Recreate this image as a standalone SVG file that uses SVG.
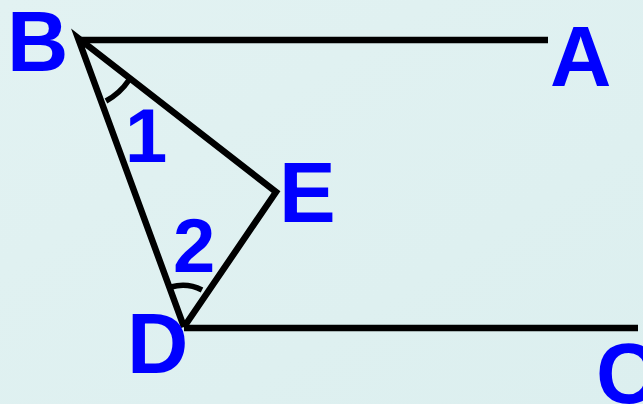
<svg xmlns="http://www.w3.org/2000/svg" width="643" height="404" viewBox="0 0 643 404">
  <defs>
    <linearGradient id="bg" x1="0" y1="0" x2="1" y2="1">
      <stop offset="0" stop-color="#e2f2f2"/>
      <stop offset="1" stop-color="#dcefef"/>
    </linearGradient>
  </defs>
  <style>
    .seg { stroke: #000; stroke-width: 6.5; fill: none; stroke-linecap: butt; stroke-linejoin: miter; }
    .arc { stroke: #000; stroke-width: 5.5; fill: none; }
    .lbl { font-family: "Liberation Sans", Arial, sans-serif; font-weight: bold; fill: #0000ff; font-size: 85px; }
    .num { font-family: "Liberation Sans", Arial, sans-serif; font-weight: bold; fill: #0000ff; font-size: 76px; }
  </style>
  <rect x="0" y="0" width="643" height="404" fill="url(#bg)"/>
  <g id="connectors">
    <line class="seg" x1="78" y1="40" x2="548" y2="40"/>
    <line class="seg" x1="184" y1="328" x2="638" y2="328"/>
    <polyline class="seg" points="184,327 78,38 276,192 184,327"/>
    <path class="arc" d="M 106 101 A 66 66 0 0 0 129 80"/>
    <path class="arc" d="M 171 287 A 42 42 0 0 1 202 290"/>
  </g>
  <g id="node-B"><text class="lbl" x="7" y="71">B</text></g>
  <g id="node-A"><text class="lbl" x="550" y="86">A</text></g>
  <g id="node-E"><text class="lbl" x="279" y="222">E</text></g>
  <g id="node-D"><text class="lbl" x="127" y="373">D</text></g>
  <g id="node-C"><text class="lbl" x="596" y="403">C</text></g>
  <g id="angle-1"><text class="num" x="125" y="162">1</text></g>
  <g id="angle-2"><text class="num" x="173" y="272">2</text></g>
</svg>
